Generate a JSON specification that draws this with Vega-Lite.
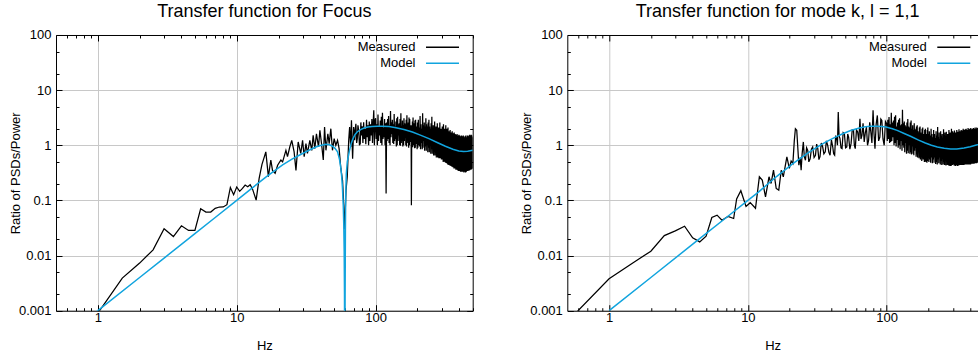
{
  "$schema": "https://vega.github.io/schema/vega-lite/v6.json",
  "background": "white",
  "padding": {"left": 9, "top": 3, "right": 0, "bottom": 0},
  "config": {
    "view": {"stroke": null},
    "font": "Liberation Sans",
    "axis": {
      "domainColor": "#000000", "domainWidth": 1,
      "tickColor": "#000000", "tickWidth": 1,
      "labelFont": "Liberation Sans", "labelFontSize": 13, "labelColor": "#000000",
      "titleFont": "Liberation Sans", "titleFontSize": 13, "titleFontWeight": "normal", "titleColor": "#000000",
      "gridColor": "#c8c8c8", "gridWidth": 1,
      "labelFlush": false, "labelOverlap": false, "labelBound": false
    },
    "legend": {
      "orient": "none", "title": null, "symbolType": "M-4,0H4", "symbolSize": 68,
      "symbolStrokeWidth": 1.5, "symbolOpacity": 1, "symbolFillColor": "transparent",
      "labelAlign": "right", "labelOffset": -33.5,
      "labelFont": "Liberation Sans", "labelFontSize": 13, "labelColor": "#000000",
      "padding": 0
    },
    "title": {"font": "Liberation Sans", "fontSize": 18, "fontWeight": "normal", "color": "#000000", "anchor": "middle", "frame": "group", "baseline": "alphabetic", "offset": 8}
  },
  "datasets": {
    "focusMeasured": [
      {"hz":1,"ratio":0.0009},{"hz":1.5,"ratio":0.0039},{"hz":2,"ratio":0.0073},{"hz":2.5,"ratio":0.0127},{"hz":3,"ratio":0.0306},{"hz":3.5,"ratio":0.0221},{"hz":4,"ratio":0.0347},{"hz":4.5,"ratio":0.0285},{"hz":5,"ratio":0.0285},{"hz":5.5,"ratio":0.0706},{"hz":6,"ratio":0.0615},{"hz":6.5,"ratio":0.0615},{"hz":7,"ratio":0.072},{"hz":7.5,"ratio":0.0759},{"hz":8,"ratio":0.076},{"hz":8.5,"ratio":0.0835},{"hz":9,"ratio":0.172},{"hz":9.5,"ratio":0.127},{"hz":10,"ratio":0.175},{"hz":10.5,"ratio":0.146},{"hz":11,"ratio":0.165},{"hz":11.5,"ratio":0.19},{"hz":12,"ratio":0.177},{"hz":12.5,"ratio":0.193},{"hz":13,"ratio":0.16},{"hz":13.8,"ratio":0.101},{"hz":14.5,"ratio":0.25},{"hz":15.2,"ratio":0.45},{"hz":15.8,"ratio":0.615},{"hz":16.2,"ratio":0.76},{"hz":16.9,"ratio":0.27},{"hz":17.6,"ratio":0.54},{"hz":18.1,"ratio":0.35},{"hz":18.9,"ratio":0.31},{"hz":19.7,"ratio":0.435},{"hz":20.8,"ratio":0.54},{"hz":21.4,"ratio":0.5},{"hz":22.6,"ratio":0.81},{"hz":23.2,"ratio":0.62},{"hz":24.1,"ratio":0.93},{"hz":24.9,"ratio":1.23},{"hz":25.9,"ratio":0.76},{"hz":26.7,"ratio":0.35},{"hz":27.7,"ratio":1.15},{"hz":28.9,"ratio":0.71},{"hz":29.8,"ratio":1.23},{"hz":30.6,"ratio":0.62},{"hz":31.5,"ratio":1.07},{"hz":32.3,"ratio":0.71},{"hz":33.6,"ratio":1.23},{"hz":34.7,"ratio":0.81},{"hz":35.5,"ratio":1.52},{"hz":36.5,"ratio":0.87},{"hz":37.5,"ratio":1.62},{"hz":38.8,"ratio":0.93},{"hz":39.7,"ratio":1.87},{"hz":40.8,"ratio":1.07},{"hz":42,"ratio":0.54},{"hz":42.9,"ratio":2.14},{"hz":43.9,"ratio":0.81},{"hz":45.3,"ratio":1.62},{"hz":46.3,"ratio":1.07},{"hz":47.6,"ratio":2.0},{"hz":48.9,"ratio":0.81},{"hz":50.3,"ratio":1.32},{"hz":51.7,"ratio":1.0},{"hz":53.2,"ratio":1.23},{"hz":54.6,"ratio":0.87},{"hz":56.2,"ratio":0.38},{"hz":57.8,"ratio":0.23},{"hz":59,"ratio":0.08},{"hz":59.6,"ratio":0.03},{"hz":60.4,"ratio":0.06},{"hz":61.2,"ratio":0.15},{"hz":62.5,"ratio":0.27},{"hz":64,"ratio":1.23},{"hz":65,"ratio":2.14},{"hz":66.1,"ratio":0.93},{"hz":67,"ratio":2.83},{"hz":68.3,"ratio":0.57},{"hz":69.5,"ratio":2.14},{"hz":70.6,"ratio":1.23},{"hz":71.3,"ratio":1.9},{"hz":72.1,"ratio":2.46},{"hz":73,"ratio":1.1},{"hz":73.8,"ratio":1.32},{"hz":74.6,"ratio":2.3},{"hz":75.5,"ratio":1.87},{"hz":76.5,"ratio":1.0},{"hz":77.5,"ratio":1.07},{"hz":78.3,"ratio":2.6},{"hz":79,"ratio":1.5},{"hz":80,"ratio":2.2},{"hz":81,"ratio":1.1},{"hz":82,"ratio":2.6},{"hz":83,"ratio":1.3},{"hz":84,"ratio":2.0},{"hz":85,"ratio":1.05},{"hz":86,"ratio":2.9},{"hz":87,"ratio":1.4},{"hz":88,"ratio":2.3},{"hz":89,"ratio":1.0},{"hz":90,"ratio":2.7},{"hz":91,"ratio":1.2},{"hz":92,"ratio":2.4},{"hz":93,"ratio":1.5},{"hz":94,"ratio":3.0},{"hz":95,"ratio":1.1},{"hz":96,"ratio":2.5},{"hz":97,"ratio":4.3},{"hz":98,"ratio":1.0},{"hz":99,"ratio":2.8},
      {"hz":100,"ratio":3.1},{"hz":101,"ratio":1.3},{"hz":102,"ratio":2.4},{"hz":103,"ratio":1.0},{"hz":104,"ratio":3.6},{"hz":105,"ratio":1.2},{"hz":106,"ratio":2.2},{"hz":107,"ratio":1.5},{"hz":108,"ratio":2.8},{"hz":109,"ratio":1.1},{"hz":110,"ratio":3.3},{"hz":111,"ratio":1.0},{"hz":112,"ratio":3.9},{"hz":113,"ratio":1.3},{"hz":114,"ratio":2.1},{"hz":115,"ratio":1.4},{"hz":116,"ratio":3.0},{"hz":117,"ratio":1.0},{"hz":118,"ratio":2.5},{"hz":119,"ratio":0.134},{"hz":120,"ratio":2.6},{"hz":121,"ratio":1.2},{"hz":122,"ratio":3.0},{"hz":123,"ratio":1.3},{"hz":124,"ratio":3.4},{"hz":125,"ratio":1.1},{"hz":126,"ratio":2.3},{"hz":127,"ratio":1.0},{"hz":128,"ratio":4.2},{"hz":129,"ratio":1.4},{"hz":130,"ratio":2.6},{"hz":131,"ratio":1.6},{"hz":132,"ratio":2.9},{"hz":133,"ratio":1.1},{"hz":134,"ratio":2.4},{"hz":135,"ratio":1.05},{"hz":136,"ratio":3.7},{"hz":137,"ratio":1.2},{"hz":138,"ratio":2.2},{"hz":139,"ratio":1.3},{"hz":140,"ratio":2.7},{"hz":141,"ratio":0.95},{"hz":142,"ratio":3.1},{"hz":143,"ratio":1.0},{"hz":144,"ratio":3.3},{"hz":145,"ratio":1.2},{"hz":146,"ratio":2.4},{"hz":147,"ratio":1.5},{"hz":148,"ratio":2.5},{"hz":149,"ratio":1.0},{"hz":150,"ratio":3.0},{"hz":151,"ratio":0.98},{"hz":152,"ratio":3.8},{"hz":153,"ratio":1.1},{"hz":154,"ratio":2.2},{"hz":155,"ratio":1.2},{"hz":156,"ratio":2.8},{"hz":157,"ratio":0.95},{"hz":158,"ratio":2.3},{"hz":159,"ratio":1.0},{"hz":160,"ratio":3.1},{"hz":161,"ratio":1.2},{"hz":162,"ratio":2.5},{"hz":163,"ratio":1.4},{"hz":164,"ratio":2.4},{"hz":165,"ratio":1.0},{"hz":166,"ratio":2.9},{"hz":167,"ratio":0.95},{"hz":168,"ratio":3.5},{"hz":169,"ratio":1.1},{"hz":170,"ratio":2.2},{"hz":171,"ratio":1.2},{"hz":172,"ratio":2.6},{"hz":173,"ratio":0.9},{"hz":174,"ratio":3.2},{"hz":175,"ratio":1.0},{"hz":176,"ratio":3.0},{"hz":177,"ratio":1.15},{"hz":178,"ratio":2.1},{"hz":179,"ratio":1.3},{"hz":180,"ratio":2.3},{"hz":181,"ratio":0.082},{"hz":182,"ratio":2.2},{"hz":183,"ratio":1.0},{"hz":184,"ratio":2.7},{"hz":185,"ratio":0.92},{"hz":186,"ratio":3.2},{"hz":187,"ratio":1.0},{"hz":188,"ratio":2.0},{"hz":189,"ratio":1.1},{"hz":190,"ratio":2.5},{"hz":191,"ratio":0.88},{"hz":192,"ratio":2.8},{"hz":193,"ratio":0.9},{"hz":194,"ratio":2.9},{"hz":195,"ratio":1.05},{"hz":196,"ratio":2.0},{"hz":197,"ratio":1.2},{"hz":198,"ratio":2.2},{"hz":199,"ratio":0.85},{"hz":200,"ratio":2.6},
      {"hz":201.5,"ratio":0.9},{"hz":203,"ratio":2.9},{"hz":204.5,"ratio":1.0},{"hz":206,"ratio":2.1},{"hz":207.5,"ratio":0.95},{"hz":209,"ratio":3.4},{"hz":210.5,"ratio":0.85},{"hz":212,"ratio":2.4},{"hz":213.5,"ratio":1.1},{"hz":215,"ratio":2.0},{"hz":216.5,"ratio":0.85},{"hz":218,"ratio":3.8},{"hz":219.5,"ratio":0.9},{"hz":221,"ratio":2.3},{"hz":222.5,"ratio":1.2},{"hz":224,"ratio":2.6},{"hz":225.5,"ratio":0.8},{"hz":227,"ratio":2.2},{"hz":228.5,"ratio":0.95},{"hz":230,"ratio":3.1},{"hz":231.5,"ratio":0.8},{"hz":233,"ratio":2.4},{"hz":234.5,"ratio":1.0},{"hz":236,"ratio":2.2},{"hz":237.5,"ratio":0.75},{"hz":239,"ratio":2.6},{"hz":240.5,"ratio":0.9},{"hz":242,"ratio":2.9},{"hz":243.5,"ratio":0.75},{"hz":245,"ratio":2.2},{"hz":246.5,"ratio":1.05},{"hz":248,"ratio":2.0},{"hz":249.5,"ratio":0.7},{"hz":251,"ratio":2.5},{"hz":252.5,"ratio":0.85},{"hz":254,"ratio":3.3},{"hz":255.5,"ratio":0.7},{"hz":257,"ratio":2.0},{"hz":258.5,"ratio":0.9},{"hz":260,"ratio":2.3},{"hz":261.5,"ratio":0.65},{"hz":263,"ratio":2.0},{"hz":264.5,"ratio":0.8},{"hz":266,"ratio":2.7},{"hz":267.5,"ratio":0.65},{"hz":269,"ratio":1.9},{"hz":270.5,"ratio":0.85},{"hz":272,"ratio":2.2},{"hz":273.5,"ratio":0.6},{"hz":275,"ratio":1.9},{"hz":276.5,"ratio":0.75},{"hz":278,"ratio":2.5},{"hz":279.5,"ratio":0.6},{"hz":281,"ratio":1.8},{"hz":282.5,"ratio":0.8},{"hz":284,"ratio":2.1},{"hz":285.5,"ratio":0.58},{"hz":287,"ratio":1.8},{"hz":288.5,"ratio":0.7},{"hz":290,"ratio":2.6},{"hz":291.5,"ratio":0.58},{"hz":293,"ratio":1.7},{"hz":294.5,"ratio":0.75},{"hz":296,"ratio":2.0},{"hz":297.5,"ratio":0.55},{"hz":299,"ratio":1.7},
      {"hz":300.5,"ratio":0.55},{"hz":302,"ratio":2.2},{"hz":303.5,"ratio":0.6},{"hz":305,"ratio":1.8},{"hz":306.5,"ratio":0.5},{"hz":308,"ratio":2.4},{"hz":309.5,"ratio":0.65},{"hz":311,"ratio":1.6},{"hz":312.5,"ratio":0.5},{"hz":314,"ratio":2.0},{"hz":315.5,"ratio":0.6},{"hz":317,"ratio":1.5},{"hz":318.5,"ratio":0.48},{"hz":320,"ratio":2.3},{"hz":321.5,"ratio":0.62},{"hz":323,"ratio":1.5},{"hz":324.5,"ratio":0.47},{"hz":326,"ratio":2.0},{"hz":327.5,"ratio":0.58},{"hz":329,"ratio":1.4},{"hz":330.5,"ratio":0.45},{"hz":332,"ratio":2.1},{"hz":333.5,"ratio":0.6},{"hz":335,"ratio":1.35},{"hz":336.5,"ratio":0.44},{"hz":338,"ratio":1.8},{"hz":339.5,"ratio":0.56},{"hz":341,"ratio":1.3},{"hz":342.5,"ratio":0.43},{"hz":344,"ratio":1.9},{"hz":345.5,"ratio":0.55},{"hz":347,"ratio":1.3},{"hz":348.5,"ratio":0.42},{"hz":350,"ratio":1.7},{"hz":351.5,"ratio":0.52},{"hz":353,"ratio":1.25},{"hz":354.5,"ratio":0.41},{"hz":356,"ratio":1.8},{"hz":357.5,"ratio":0.5},{"hz":359,"ratio":1.2},{"hz":360.5,"ratio":0.4},{"hz":362,"ratio":1.65},{"hz":363.5,"ratio":0.5},{"hz":365,"ratio":1.2},{"hz":366.5,"ratio":0.38},{"hz":368,"ratio":1.7},{"hz":369.5,"ratio":0.48},{"hz":371,"ratio":1.15},{"hz":372.5,"ratio":0.38},{"hz":374,"ratio":1.6},{"hz":375.5,"ratio":0.47},{"hz":377,"ratio":1.1},{"hz":378.5,"ratio":0.36},{"hz":380,"ratio":1.55},{"hz":381.5,"ratio":0.46},{"hz":383,"ratio":1.1},{"hz":384.5,"ratio":0.36},{"hz":386,"ratio":1.6},{"hz":387.5,"ratio":0.45},{"hz":389,"ratio":1.05},{"hz":390.5,"ratio":0.35},{"hz":392,"ratio":1.5},{"hz":393.5,"ratio":0.44},{"hz":395,"ratio":1.05},{"hz":396.5,"ratio":0.34},{"hz":398,"ratio":1.55},{"hz":399.5,"ratio":0.43},{"hz":401,"ratio":1.0},{"hz":402.5,"ratio":0.34},{"hz":404,"ratio":1.5},{"hz":405.5,"ratio":0.42},{"hz":407,"ratio":1.0},{"hz":408.5,"ratio":0.33},{"hz":410,"ratio":1.45},{"hz":411.5,"ratio":0.42},{"hz":413,"ratio":1.0},{"hz":414.5,"ratio":0.33},{"hz":416,"ratio":1.5},{"hz":417.5,"ratio":0.41},{"hz":419,"ratio":0.98},{"hz":420.5,"ratio":0.33},{"hz":422,"ratio":1.45},{"hz":423.5,"ratio":0.4},{"hz":425,"ratio":1.0},{"hz":426.5,"ratio":0.33},{"hz":428,"ratio":1.5},{"hz":429.5,"ratio":0.41},{"hz":431,"ratio":0.95},{"hz":432.5,"ratio":0.32},{"hz":434,"ratio":1.4},{"hz":435.5,"ratio":0.4},{"hz":437,"ratio":1.0},{"hz":438.5,"ratio":0.33},{"hz":440,"ratio":1.45},{"hz":441.5,"ratio":0.4},{"hz":443,"ratio":0.95},{"hz":444.5,"ratio":0.32},{"hz":446,"ratio":1.5},{"hz":447.5,"ratio":0.41},{"hz":449,"ratio":1.0},{"hz":450.5,"ratio":0.33},{"hz":452,"ratio":1.4},{"hz":453.5,"ratio":0.4},{"hz":455,"ratio":1.0},{"hz":456.5,"ratio":0.34},{"hz":458,"ratio":1.5},{"hz":459.5,"ratio":0.42},{"hz":461,"ratio":1.0},{"hz":462.5,"ratio":0.34},{"hz":464,"ratio":1.45},{"hz":465.5,"ratio":0.42},{"hz":467,"ratio":1.05},{"hz":468.5,"ratio":0.35},{"hz":470,"ratio":1.5},{"hz":471.5,"ratio":0.43},{"hz":473,"ratio":1.0},{"hz":474.5,"ratio":0.35},{"hz":476,"ratio":1.55},{"hz":477.5,"ratio":0.44},{"hz":479,"ratio":1.05},{"hz":480.5,"ratio":0.36},{"hz":482,"ratio":1.5},{"hz":483.5,"ratio":0.44},{"hz":485,"ratio":1.1},{"hz":486.5,"ratio":0.36},{"hz":488,"ratio":1.55},{"hz":489.5,"ratio":0.45},{"hz":491,"ratio":1.1},{"hz":492.5,"ratio":0.37},{"hz":494,"ratio":1.5},{"hz":495.5,"ratio":0.45},{"hz":497,"ratio":1.1},{"hz":498.5,"ratio":0.38},{"hz":500,"ratio":1.4}
    ],
    "focusModel": [
      {"hz":0.95,"ratio":0.0009},{"hz":1,"ratio":0.001},{"hz":2,"ratio":0.004},{"hz":3,"ratio":0.009},{"hz":5,"ratio":0.025},{"hz":7,"ratio":0.049},{"hz":10,"ratio":0.1},{"hz":12.3,"ratio":0.152},{"hz":16.2,"ratio":0.265},{"hz":21.4,"ratio":0.44},{"hz":25,"ratio":0.56},{"hz":28.2,"ratio":0.66},{"hz":32,"ratio":0.78},{"hz":37.1,"ratio":0.93},{"hz":40,"ratio":0.99},{"hz":43.9,"ratio":1.04},{"hz":46.5,"ratio":1.02},{"hz":48.9,"ratio":0.96},{"hz":51,"ratio":0.88},{"hz":53.2,"ratio":0.76},{"hz":55,"ratio":0.55},{"hz":56.2,"ratio":0.38},{"hz":57,"ratio":0.27},{"hz":57.7,"ratio":0.17},{"hz":58.5,"ratio":0.08},{"hz":59,"ratio":0.035},{"hz":59.4,"ratio":0.012},{"hz":59.7,"ratio":0.002},{"hz":60,"ratio":0.00001},{"hz":60.3,"ratio":0.002},{"hz":60.6,"ratio":0.03},{"hz":60.9,"ratio":0.12},{"hz":61.5,"ratio":0.3},{"hz":62.5,"ratio":0.5},{"hz":64.9,"ratio":0.81},{"hz":66.5,"ratio":1.05},{"hz":68.7,"ratio":1.32},{"hz":71,"ratio":1.55},{"hz":73.6,"ratio":1.74},{"hz":78,"ratio":1.93},{"hz":82.6,"ratio":2.06},{"hz":88,"ratio":2.15},{"hz":94.5,"ratio":2.2},{"hz":103,"ratio":2.22},{"hz":111,"ratio":2.22},{"hz":125,"ratio":2.18},{"hz":140,"ratio":2.08},{"hz":160,"ratio":1.93},{"hz":184,"ratio":1.74},{"hz":210,"ratio":1.53},{"hz":242,"ratio":1.32},{"hz":280,"ratio":1.11},{"hz":318,"ratio":0.96},{"hz":360,"ratio":0.85},{"hz":397,"ratio":0.79},{"hz":430,"ratio":0.77},{"hz":460,"ratio":0.78},{"hz":500,"ratio":0.81}
    ],
    "modeMeasured": [
      {"hz":0.5,"ratio":0.00063},{"hz":1,"ratio":0.0038},{"hz":1.5,"ratio":0.0075},{"hz":2,"ratio":0.012},{"hz":2.5,"ratio":0.023},{"hz":3,"ratio":0.028},{"hz":3.5,"ratio":0.034},{"hz":4,"ratio":0.021},{"hz":4.5,"ratio":0.0177},{"hz":5,"ratio":0.0224},{"hz":5.5,"ratio":0.049},{"hz":6,"ratio":0.054},{"hz":6.5,"ratio":0.0436},{"hz":7.2,"ratio":0.0514},{"hz":7.9,"ratio":0.047},{"hz":8.3,"ratio":0.106},{"hz":8.9,"ratio":0.15},{"hz":9.7,"ratio":0.078},{"hz":10.4,"ratio":0.091},{"hz":11.35,"ratio":0.072},{"hz":12.1,"ratio":0.268},{"hz":12.7,"ratio":0.233},{"hz":13.4,"ratio":0.116},{"hz":14.2,"ratio":0.268},{"hz":14.7,"ratio":0.203},{"hz":15.3,"ratio":0.353},{"hz":16,"ratio":0.165},{"hz":16.7,"ratio":0.154},{"hz":17.4,"ratio":0.353},{"hz":18,"ratio":0.268},{"hz":19.1,"ratio":0.615},{"hz":19.9,"ratio":0.38},{"hz":20.5,"ratio":0.52},{"hz":21.1,"ratio":0.466},{"hz":21.6,"ratio":1.2},{"hz":22,"ratio":2.0},{"hz":22.5,"ratio":1.87},{"hz":22.9,"ratio":0.9},{"hz":23.3,"ratio":0.435},{"hz":23.8,"ratio":0.6},{"hz":24.2,"ratio":0.353},{"hz":24.6,"ratio":0.7},{"hz":25.1,"ratio":1.15},{"hz":25.5,"ratio":0.62},{"hz":26,"ratio":0.535},{"hz":26.5,"ratio":0.9},{"hz":27,"ratio":0.81},{"hz":27.5,"ratio":0.5},{"hz":28.1,"ratio":0.57},{"hz":28.7,"ratio":0.85},{"hz":29.3,"ratio":0.93},{"hz":30,"ratio":0.6},{"hz":30.7,"ratio":0.66},{"hz":31.3,"ratio":1.05},{"hz":31.9,"ratio":0.87},{"hz":32.5,"ratio":0.55},{"hz":33.1,"ratio":0.62},{"hz":33.8,"ratio":1.1},{"hz":34.6,"ratio":0.93},{"hz":35.3,"ratio":0.7},{"hz":36.1,"ratio":0.76},{"hz":36.8,"ratio":1.2},{"hz":37.6,"ratio":1.0},{"hz":38.3,"ratio":0.75},{"hz":39.1,"ratio":0.66},{"hz":40,"ratio":1.25},{"hz":40.9,"ratio":0.93},{"hz":41.5,"ratio":0.7},{"hz":42.2,"ratio":0.66},{"hz":42.9,"ratio":1.5},{"hz":43.6,"ratio":1.32},{"hz":44.2,"ratio":1.0},{"hz":44.8,"ratio":4.0},{"hz":45.4,"ratio":1.5},{"hz":46.1,"ratio":1.32},{"hz":46.9,"ratio":0.9},{"hz":47.7,"ratio":0.87},{"hz":48.6,"ratio":1.7},{"hz":49.6,"ratio":1.62},{"hz":50.6,"ratio":0.9},{"hz":51.6,"ratio":0.93},{"hz":52.4,"ratio":1.6},{"hz":53.2,"ratio":1.41},{"hz":54.3,"ratio":0.85},{"hz":55.4,"ratio":1.07},{"hz":56.5,"ratio":1.9},{"hz":57.7,"ratio":1.87},{"hz":58.5,"ratio":1.0},{"hz":59.4,"ratio":0.87},{"hz":60.6,"ratio":1.9},{"hz":61.8,"ratio":1.74},{"hz":63,"ratio":1.2},{"hz":64.2,"ratio":3.03},{"hz":65.3,"ratio":1.3},{"hz":66.4,"ratio":1.52},{"hz":67.6,"ratio":2.5},{"hz":68.9,"ratio":1.15},{"hz":70.2,"ratio":1.7},{"hz":71.5,"ratio":2.14},{"hz":72.8,"ratio":1.0},{"hz":74.1,"ratio":1.23},{"hz":75.5,"ratio":2.6},{"hz":76.9,"ratio":1.74},{"hz":78.3,"ratio":1.1},{"hz":79.8,"ratio":4.3},{"hz":81.1,"ratio":1.6},{"hz":82.4,"ratio":0.87},{"hz":84,"ratio":2.4},{"hz":85.7,"ratio":3.48},{"hz":87.5,"ratio":1.2},{"hz":89.3,"ratio":1.41},{"hz":90.8,"ratio":3.0},{"hz":92.3,"ratio":2.83},{"hz":94.1,"ratio":1.3},{"hz":96,"ratio":1.0},{"hz":98,"ratio":2.7},
      {"hz":100,"ratio":2.46},{"hz":101,"ratio":1.2},{"hz":102,"ratio":2.9},{"hz":103,"ratio":1.3},{"hz":104,"ratio":3.25},{"hz":105,"ratio":1.1},{"hz":106,"ratio":2.4},{"hz":107,"ratio":1.15},{"hz":108,"ratio":3.9},{"hz":109,"ratio":1.2},{"hz":110,"ratio":2.6},{"hz":111,"ratio":1.4},{"hz":112,"ratio":2.8},{"hz":113,"ratio":1.0},{"hz":114,"ratio":3.3},{"hz":115,"ratio":1.1},{"hz":116,"ratio":3.5},{"hz":117,"ratio":0.95},{"hz":118,"ratio":2.2},{"hz":119,"ratio":1.25},{"hz":120,"ratio":2.6},{"hz":121,"ratio":0.9},{"hz":122,"ratio":2.9},{"hz":123,"ratio":1.0},{"hz":124,"ratio":3.1},{"hz":125,"ratio":0.85},{"hz":126,"ratio":2.3},{"hz":127,"ratio":1.2},{"hz":128,"ratio":2.4},{"hz":129,"ratio":0.8},{"hz":130,"ratio":4.4},{"hz":131,"ratio":1.0},{"hz":132,"ratio":2.5},{"hz":133,"ratio":0.9},{"hz":134,"ratio":2.7},{"hz":135,"ratio":0.75},{"hz":136,"ratio":2.3},{"hz":137,"ratio":1.1},{"hz":138,"ratio":2.2},{"hz":139,"ratio":0.7},{"hz":140,"ratio":2.6},{"hz":141,"ratio":0.8},{"hz":142,"ratio":3.0},{"hz":143,"ratio":0.72},{"hz":144,"ratio":2.2},{"hz":145,"ratio":1.0},{"hz":146,"ratio":2.1},{"hz":147,"ratio":0.7},{"hz":148,"ratio":2.6},{"hz":149,"ratio":0.75},{"hz":150,"ratio":2.8},{"hz":151,"ratio":0.68},{"hz":152,"ratio":2.0},{"hz":153,"ratio":0.95},{"hz":154,"ratio":2.3},{"hz":155,"ratio":0.7},{"hz":156,"ratio":1.9},{"hz":157,"ratio":0.66},{"hz":158,"ratio":2.5},{"hz":159,"ratio":0.8},{"hz":160,"ratio":2.0},{"hz":161,"ratio":0.9},{"hz":162,"ratio":1.9},{"hz":163,"ratio":0.62},{"hz":164,"ratio":2.2},{"hz":165,"ratio":0.68},{"hz":166,"ratio":2.3},{"hz":167,"ratio":0.6},{"hz":168,"ratio":1.8},{"hz":169,"ratio":0.85},{"hz":170,"ratio":1.7},{"hz":171,"ratio":0.58},{"hz":172,"ratio":2.1},{"hz":173,"ratio":0.62},{"hz":174,"ratio":2.2},{"hz":175,"ratio":0.55},{"hz":176,"ratio":1.7},{"hz":177,"ratio":0.8},{"hz":178,"ratio":1.6},{"hz":179,"ratio":0.52},{"hz":180,"ratio":2.0},{"hz":181,"ratio":0.6},{"hz":182,"ratio":2.1},{"hz":183,"ratio":0.55},{"hz":184,"ratio":1.6},{"hz":185,"ratio":0.75},{"hz":186,"ratio":1.5},{"hz":187,"ratio":0.5},{"hz":188,"ratio":1.9},{"hz":189,"ratio":0.55},{"hz":190,"ratio":2.0},{"hz":191,"ratio":0.5},{"hz":192,"ratio":1.6},{"hz":193,"ratio":0.7},{"hz":194,"ratio":1.45},{"hz":195,"ratio":0.48},{"hz":196,"ratio":1.9},{"hz":197,"ratio":0.52},{"hz":198,"ratio":2.1},{"hz":199,"ratio":0.6},{"hz":200,"ratio":1.6},
      {"hz":201.5,"ratio":0.5},{"hz":203,"ratio":1.8},{"hz":204.5,"ratio":0.55},{"hz":206,"ratio":1.5},{"hz":207.5,"ratio":0.48},{"hz":209,"ratio":2.0},{"hz":210.5,"ratio":0.6},{"hz":212,"ratio":1.6},{"hz":213.5,"ratio":0.47},{"hz":215,"ratio":1.4},{"hz":216.5,"ratio":0.55},{"hz":218,"ratio":1.9},{"hz":219.5,"ratio":0.48},{"hz":221,"ratio":1.6},{"hz":222.5,"ratio":0.6},{"hz":224,"ratio":1.35},{"hz":225.5,"ratio":0.46},{"hz":227,"ratio":1.8},{"hz":228.5,"ratio":0.5},{"hz":230,"ratio":1.5},{"hz":231.5,"ratio":0.45},{"hz":233,"ratio":2.15},{"hz":234.5,"ratio":0.55},{"hz":236,"ratio":1.4},{"hz":237.5,"ratio":0.47},{"hz":239,"ratio":1.7},{"hz":240.5,"ratio":0.6},{"hz":242,"ratio":1.3},{"hz":243.5,"ratio":0.45},{"hz":245,"ratio":1.8},{"hz":246.5,"ratio":0.52},{"hz":248,"ratio":1.5},{"hz":249.5,"ratio":0.44},{"hz":251,"ratio":1.6},{"hz":252.5,"ratio":0.58},{"hz":254,"ratio":1.3},{"hz":255.5,"ratio":0.45},{"hz":257,"ratio":1.95},{"hz":258.5,"ratio":0.5},{"hz":260,"ratio":1.5},{"hz":261.5,"ratio":0.44},{"hz":263,"ratio":1.7},{"hz":264.5,"ratio":0.56},{"hz":266,"ratio":1.3},{"hz":267.5,"ratio":0.43},{"hz":269,"ratio":1.75},{"hz":270.5,"ratio":0.5},{"hz":272,"ratio":1.4},{"hz":273.5,"ratio":0.44},{"hz":275,"ratio":1.6},{"hz":276.5,"ratio":0.55},{"hz":278,"ratio":1.3},{"hz":279.5,"ratio":0.43},{"hz":281,"ratio":1.9},{"hz":282.5,"ratio":0.5},{"hz":284,"ratio":1.45},{"hz":285.5,"ratio":0.42},{"hz":287,"ratio":1.7},{"hz":288.5,"ratio":0.55},{"hz":290,"ratio":1.3},{"hz":291.5,"ratio":0.42},{"hz":293,"ratio":2.0},{"hz":294.5,"ratio":0.5},{"hz":296,"ratio":1.4},{"hz":297.5,"ratio":0.44},{"hz":299,"ratio":1.8},
      {"hz":300.5,"ratio":0.45},{"hz":302,"ratio":1.7},{"hz":303.5,"ratio":0.52},{"hz":305,"ratio":1.3},{"hz":306.5,"ratio":0.43},{"hz":308,"ratio":1.85},{"hz":309.5,"ratio":0.55},{"hz":311,"ratio":1.25},{"hz":312.5,"ratio":0.42},{"hz":314,"ratio":1.7},{"hz":315.5,"ratio":0.52},{"hz":317,"ratio":1.3},{"hz":318.5,"ratio":0.43},{"hz":320,"ratio":1.9},{"hz":321.5,"ratio":0.54},{"hz":323,"ratio":1.3},{"hz":324.5,"ratio":0.42},{"hz":326,"ratio":1.75},{"hz":327.5,"ratio":0.5},{"hz":329,"ratio":1.35},{"hz":330.5,"ratio":0.43},{"hz":332,"ratio":1.95},{"hz":333.5,"ratio":0.53},{"hz":335,"ratio":1.3},{"hz":336.5,"ratio":0.44},{"hz":338,"ratio":1.8},{"hz":339.5,"ratio":0.55},{"hz":341,"ratio":1.35},{"hz":342.5,"ratio":0.44},{"hz":344,"ratio":1.9},{"hz":345.5,"ratio":0.52},{"hz":347,"ratio":1.4},{"hz":348.5,"ratio":0.44},{"hz":350,"ratio":1.85},{"hz":351.5,"ratio":0.54},{"hz":353,"ratio":1.35},{"hz":354.5,"ratio":0.44},{"hz":356,"ratio":2.0},{"hz":357.5,"ratio":0.53},{"hz":359,"ratio":1.4},{"hz":360.5,"ratio":0.44},{"hz":362,"ratio":1.9},{"hz":363.5,"ratio":0.55},{"hz":365,"ratio":1.4},{"hz":366.5,"ratio":0.45},{"hz":368,"ratio":1.95},{"hz":369.5,"ratio":0.54},{"hz":371,"ratio":1.45},{"hz":372.5,"ratio":0.45},{"hz":374,"ratio":2.0},{"hz":375.5,"ratio":0.55},{"hz":377,"ratio":1.4},{"hz":378.5,"ratio":0.45},{"hz":380,"ratio":1.9},{"hz":381.5,"ratio":0.54},{"hz":383,"ratio":1.45},{"hz":384.5,"ratio":0.45},{"hz":386,"ratio":2.05},{"hz":387.5,"ratio":0.55},{"hz":389,"ratio":1.45},{"hz":390.5,"ratio":0.45},{"hz":392,"ratio":1.95},{"hz":393.5,"ratio":0.55},{"hz":395,"ratio":1.5},{"hz":396.5,"ratio":0.45},{"hz":398,"ratio":2.0},{"hz":399.5,"ratio":0.56},{"hz":401,"ratio":1.5},{"hz":402.5,"ratio":0.45},{"hz":404,"ratio":2.05},{"hz":405.5,"ratio":0.55},{"hz":407,"ratio":1.5},{"hz":408.5,"ratio":0.46},{"hz":410,"ratio":1.95},{"hz":411.5,"ratio":0.56},{"hz":413,"ratio":1.5},{"hz":414.5,"ratio":0.46},{"hz":416,"ratio":2.0},{"hz":417.5,"ratio":0.56},{"hz":419,"ratio":1.55},{"hz":420.5,"ratio":0.46},{"hz":422,"ratio":2.05},{"hz":423.5,"ratio":0.56},{"hz":425,"ratio":1.5},{"hz":426.5,"ratio":0.46},{"hz":428,"ratio":2.0},{"hz":429.5,"ratio":0.56},{"hz":431,"ratio":1.55},{"hz":432.5,"ratio":0.47},{"hz":434,"ratio":2.1},{"hz":435.5,"ratio":0.56},{"hz":437,"ratio":1.55},{"hz":438.5,"ratio":0.47},{"hz":440,"ratio":2.0},{"hz":441.5,"ratio":0.57},{"hz":443,"ratio":1.6},{"hz":444.5,"ratio":0.47},{"hz":446,"ratio":2.1},{"hz":447.5,"ratio":0.57},{"hz":449,"ratio":1.6},{"hz":450.5,"ratio":0.48},{"hz":452,"ratio":2.05},{"hz":453.5,"ratio":0.57},{"hz":455,"ratio":1.6},{"hz":456.5,"ratio":0.48},{"hz":458,"ratio":2.0},{"hz":464,"ratio":0.55},{"hz":470,"ratio":1.9},{"hz":480,"ratio":0.55},{"hz":490,"ratio":2.0},{"hz":500,"ratio":0.6}
    ],
    "modeModel": [
      {"hz":1,"ratio":0.001},{"hz":2,"ratio":0.004},{"hz":4.33,"ratio":0.0188},{"hz":7,"ratio":0.049},{"hz":10,"ratio":0.1},{"hz":12.1,"ratio":0.146},{"hz":16,"ratio":0.268},{"hz":21.1,"ratio":0.466},{"hz":27.8,"ratio":0.758},{"hz":33.1,"ratio":1.0},{"hz":36.6,"ratio":1.15},{"hz":42,"ratio":1.38},{"hz":48.3,"ratio":1.62},{"hz":55,"ratio":1.85},{"hz":63.6,"ratio":2.06},{"hz":70,"ratio":2.16},{"hz":77,"ratio":2.21},{"hz":85,"ratio":2.21},{"hz":92,"ratio":2.18},{"hz":99,"ratio":2.14},{"hz":110,"ratio":2.0},{"hz":119,"ratio":1.86},{"hz":135,"ratio":1.62},{"hz":150,"ratio":1.44},{"hz":170,"ratio":1.24},{"hz":190,"ratio":1.1},{"hz":210,"ratio":1.0},{"hz":232,"ratio":0.93},{"hz":260,"ratio":0.88},{"hz":289,"ratio":0.86},{"hz":320,"ratio":0.86},{"hz":361,"ratio":0.89},{"hz":400,"ratio":0.94},{"hz":450,"ratio":1.02},{"hz":500,"ratio":1.08}
    ]
  },
  "spacing": 94.3,
  "bounds": "flush",
  "resolve": {
    "scale": {"color": "independent", "stroke": "independent"},
    "legend": {"color": "independent", "stroke": "independent"}
  },
  "hconcat": [
    {
      "title": {"text": "Transfer function for Focus"},
      "width": 416.7,
      "height": 275.7,
      "resolve": {"axis": {"x": "independent", "y": "independent"}},
      "layer": [
        {
          "data": {"name": "focusMeasured"},
          "mark": {"type": "line", "clip": true, "strokeWidth": 1.25},
          "encoding": {
            "x": {"field": "hz", "type": "quantitative", "scale": {"type": "log", "domain": [0.5, 500], "nice": false},
              "axis": {"orient": "bottom", "values": [0.6,0.7,0.8,0.9,1,2,3,4,5,6,7,8,9,10,20,30,40,50,60,70,80,90,100,200,300,400,500],
                "labelExpr": "indexof([1,10,100], datum.value) >= 0 ? toString(datum.value) : ''",
                "tickSize": {"condition": {"test": "indexof([1,10,100], datum.value) >= 0", "value": -6}, "value": -3},
                "grid": true, "gridOpacity": {"condition": {"test": "indexof([1,10,100], datum.value) >= 0", "value": 1}, "value": 0},
                "labelPadding": 7, "title": "Hz", "titlePadding": 12}},
            "y": {"field": "ratio", "type": "quantitative", "scale": {"type": "log", "domain": [0.001, 100], "nice": false},
              "axis": {"orient": "left", "values": [0.001,0.002,0.005,0.01,0.02,0.05,0.1,0.2,0.5,1,2,5,10,20,50,100],
                "labelExpr": "indexof([0.001,0.01,0.1,1,10,100], datum.value) >= 0 ? toString(datum.value) : ''",
                "tickSize": {"condition": {"test": "indexof([0.001,0.01,0.1,1,10,100], datum.value) >= 0", "value": -6}, "value": -3},
                "grid": true, "gridOpacity": {"condition": {"test": "indexof([0.001,0.01,0.1,1,10,100], datum.value) >= 0", "value": 1}, "value": 0},
                "labelPadding": 11, "title": "Ratio of PSDs/Power", "titlePadding": -4}},
            "color": {"datum": "Measured", "type": "nominal", "scale": {"domain": ["Measured"], "range": ["#000000"]},
              "legend": {"legendX": 380, "legendY": 5.8, "symbolStrokeColor": "#000000"}}
          }
        },
        {
          "data": {"name": "focusModel"},
          "mark": {"type": "line", "clip": true, "strokeWidth": 1.5},
          "encoding": {
            "x": {"field": "hz", "type": "quantitative", "scale": {"type": "log", "domain": [0.5, 500], "nice": false},
              "axis": {"orient": "top", "values": [0.6,0.7,0.8,0.9,1,2,3,4,5,6,7,8,9,10,20,30,40,50,60,70,80,90,100,200,300,400,500],
                "labels": false, "grid": false, "title": null,
                "tickSize": {"condition": {"test": "indexof([1,10,100], datum.value) >= 0", "value": -6}, "value": -3}}},
            "y": {"field": "ratio", "type": "quantitative", "scale": {"type": "log", "domain": [0.001, 100], "nice": false},
              "axis": {"orient": "right", "values": [0.001,0.002,0.005,0.01,0.02,0.05,0.1,0.2,0.5,1,2,5,10,20,50,100],
                "labels": false, "grid": false, "title": null,
                "tickSize": {"condition": {"test": "indexof([0.001,0.01,0.1,1,10,100], datum.value) >= 0", "value": -6}, "value": -3}}},
            "stroke": {"datum": "Model", "type": "nominal", "scale": {"domain": ["Model"], "range": ["#11a4de"]},
              "legend": {"legendX": 380, "legendY": 21.8, "symbolStrokeColor": "#11a4de"}}
          }
        }
      ]
    },
    {
      "title": {"text": "Transfer function for mode k, l = 1,1", "dx": 5},
      "width": 410.7,
      "height": 275.7,
      "resolve": {"axis": {"x": "independent", "y": "independent"}},
      "layer": [
        {
          "data": {"name": "modeMeasured"},
          "mark": {"type": "line", "clip": true, "strokeWidth": 1.25},
          "encoding": {
            "x": {"field": "hz", "type": "quantitative", "scale": {"type": "log", "domain": [0.5, 455], "nice": false},
              "axis": {"orient": "bottom", "values": [0.6,0.7,0.8,0.9,1,2,3,4,5,6,7,8,9,10,20,30,40,50,60,70,80,90,100,200,300,400],
                "labelExpr": "indexof([1,10,100], datum.value) >= 0 ? toString(datum.value) : ''",
                "tickSize": {"condition": {"test": "indexof([1,10,100], datum.value) >= 0", "value": -6}, "value": -3},
                "grid": true, "gridOpacity": {"condition": {"test": "indexof([1,10,100], datum.value) >= 0", "value": 1}, "value": 0},
                "labelPadding": 7, "title": "Hz", "titlePadding": 12}},
            "y": {"field": "ratio", "type": "quantitative", "scale": {"type": "log", "domain": [0.001, 100], "nice": false},
              "axis": {"orient": "left", "values": [0.001,0.002,0.005,0.01,0.02,0.05,0.1,0.2,0.5,1,2,5,10,20,50,100],
                "labelExpr": "indexof([0.001,0.01,0.1,1,10,100], datum.value) >= 0 ? toString(datum.value) : ''",
                "tickSize": {"condition": {"test": "indexof([0.001,0.01,0.1,1,10,100], datum.value) >= 0", "value": -6}, "value": -3},
                "grid": true, "gridOpacity": {"condition": {"test": "indexof([0.001,0.01,0.1,1,10,100], datum.value) >= 0", "value": 1}, "value": 0},
                "labelPadding": 11, "title": "Ratio of PSDs/Power", "titlePadding": -4}},
            "color": {"datum": "Measured", "type": "nominal", "scale": {"domain": ["Measured"], "range": ["#000000"]},
              "legend": {"legendX": 380, "legendY": 5.8, "symbolStrokeColor": "#000000"}}
          }
        },
        {
          "data": {"name": "modeModel"},
          "mark": {"type": "line", "clip": true, "strokeWidth": 1.5},
          "encoding": {
            "x": {"field": "hz", "type": "quantitative", "scale": {"type": "log", "domain": [0.5, 455], "nice": false},
              "axis": {"orient": "top", "values": [0.6,0.7,0.8,0.9,1,2,3,4,5,6,7,8,9,10,20,30,40,50,60,70,80,90,100,200,300,400],
                "labels": false, "grid": false, "title": null,
                "tickSize": {"condition": {"test": "indexof([1,10,100], datum.value) >= 0", "value": -6}, "value": -3}}},
            "y": {"field": "ratio", "type": "quantitative", "scale": {"type": "log", "domain": [0.001, 100], "nice": false},
              "axis": null},
            "stroke": {"datum": "Model", "type": "nominal", "scale": {"domain": ["Model"], "range": ["#11a4de"]},
              "legend": {"legendX": 380, "legendY": 21.8, "symbolStrokeColor": "#11a4de"}}
          }
        }
      ]
    }
  ]
}
